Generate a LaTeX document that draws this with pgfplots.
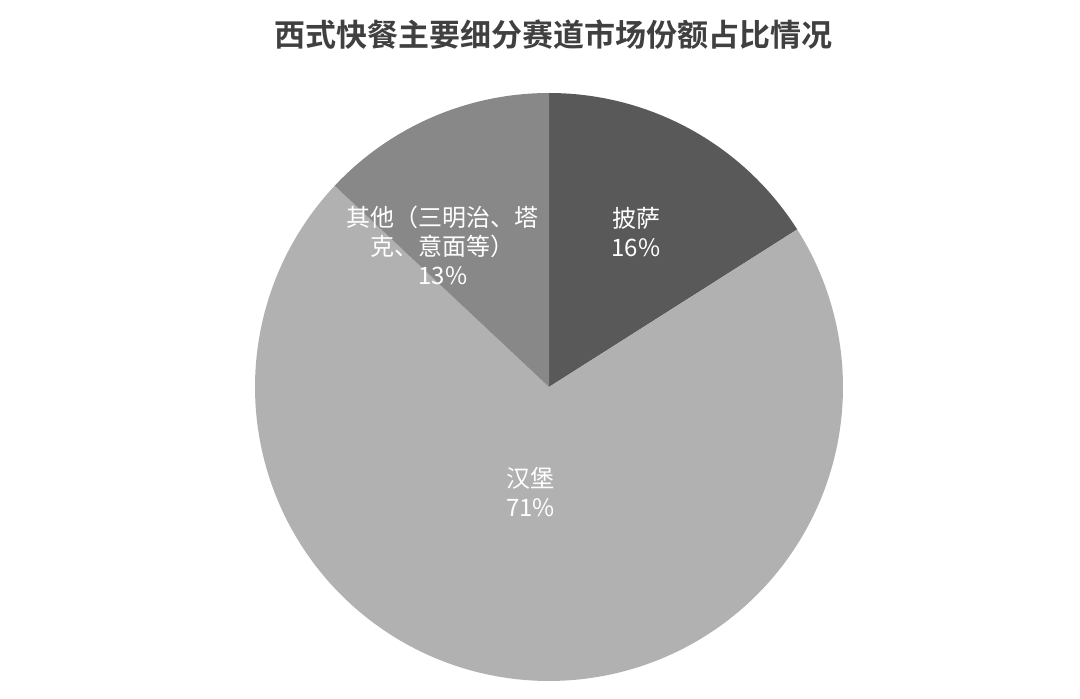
\documentclass[border=0pt]{standalone}
\usepackage{pgfplots}
\pgfplotsset{compat=1.18}
\usepackage{pgfplotstable}
\usepgfplotslibrary{polar}
\usepackage{fontspec}
\newfontfamily\cjk{Noto Sans CJK SC}
\newfontfamily\cjkbold{Noto Sans CJK SC Bold}

\definecolor{cPizza}{HTML}{595959}
\definecolor{cBurger}{HTML}{B1B1B1}
\definecolor{cOther}{HTML}{888888}
\definecolor{cTitle}{HTML}{404040}

% market share, percent
\pgfplotstableread{
slice value
pizza 16
burger 71
other 13
}\sharetable
\pgfplotstablegetelem{0}{value}\of\sharetable \let\vPizza\pgfplotsretval
\pgfplotstablegetelem{1}{value}\of\sharetable \let\vBurger\pgfplotsretval
\pgfplotstablegetelem{2}{value}\of\sharetable \let\vOther\pgfplotsretval

% slices run clockwise from 12 o'clock
\pgfmathsetmacro{\aA}{90}
\pgfmathsetmacro{\aB}{90-3.6*\vPizza}
\pgfmathsetmacro{\aC}{\aB-3.6*\vBurger}
\pgfmathsetmacro{\aD}{\aC-3.6*\vOther}

\begin{document}
\begin{tikzpicture}
\begin{polaraxis}[
    hide axis,
    scale only axis,
    width=294pt, height=294pt,
    ymin=0, ymax=1,
    clip=false,
  ]
  \addplot[draw=none, fill=cPizza, domain=\aB:\aA, samples=80] {1} -- (axis cs:0,0) -- cycle;
  \addplot[draw=none, fill=cBurger, domain=\aC:\aB, samples=200] {1} -- (axis cs:0,0) -- cycle;
  \addplot[draw=none, fill=cOther, domain=\aD:\aC, samples=60] {1} -- (axis cs:0,0) -- cycle;

  \coordinate (C) at (axis cs:0,0);

  \node[white, font=\cjk\fontsize{12}{14.5}\selectfont, align=center]
    at (axis cs:60.7,0.605) {披萨\\\vPizza\%};
  \node[white, font=\cjk\fontsize{12}{14.5}\selectfont, align=center]
    at (axis cs:-100,0.363) {汉堡\\\vBurger\%};
  \node[white, font=\cjk\fontsize{12}{14.5}\selectfont, align=center]
    at (axis cs:126.8,0.603) {其他（三明治、塔\\克、意面等）\\\vOther\%};
\end{polaraxis}

\node[cTitle, font=\cjkbold\fontsize{15.5}{18}\selectfont]
  at ([shift={(2.25pt,176pt)}]C) {西式快餐主要细分赛道市场份额占比情况};

\path[use as bounding box] ([shift={(-274.5pt,-156pt)}]C) rectangle ([shift={(265.5pt,193.5pt)}]C);
\end{tikzpicture}
\end{document}
